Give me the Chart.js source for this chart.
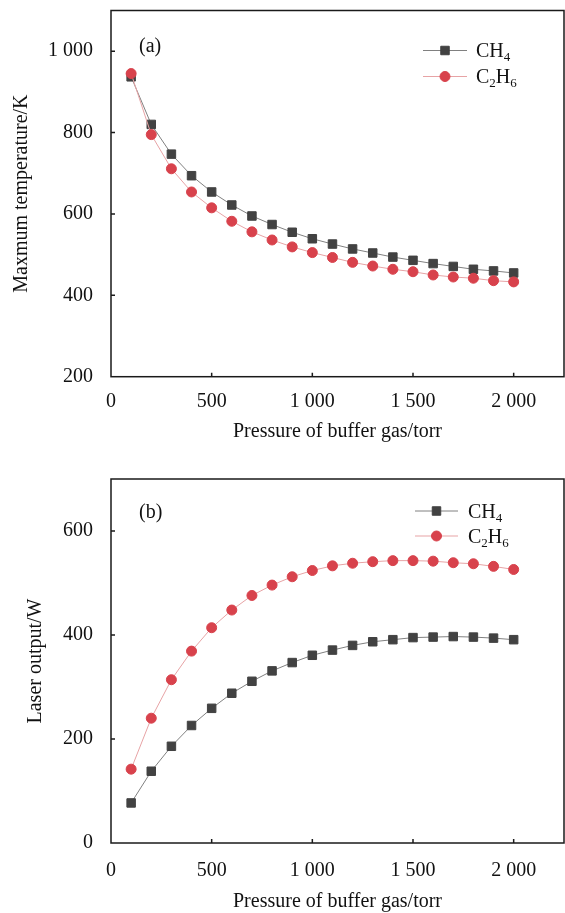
<!DOCTYPE html>
<html>
<head>
<meta charset="utf-8">
<script src="https://cdn.jsdelivr.net/npm/chart.js@4.4.1/dist/chart.umd.min.js"></script>
<style>
  body { margin: 0; background: #fff; overflow: hidden; }
  .panel { position: absolute; left: 0; width: 565px; }
  #boxA { top: 0; height: 460px; }
  #boxB { top: 460px; height: 453px; }
</style>
</head>
<body>
<div class="panel" id="boxA"><canvas id="chartA"></canvas></div>
<div class="panel" id="boxB"><canvas id="chartB"></canvas></div>
<script>
//data
var pressure = [100, 200, 300, 400, 500, 600, 700, 800, 900, 1000, 1100, 1200, 1300, 1400, 1500, 1600, 1700, 1800, 1900, 2000];
var seriesNames = ["CH4", "C2H6"];
//(a) maximum temperature, K
var tempCH4 = [937, 820, 747, 694, 654, 622, 595, 574, 555, 539, 526, 514, 504, 494, 486, 478, 471, 464, 460, 455];
var tempC2H6 = [945, 795, 711, 654, 615, 582, 556, 536, 519, 505, 493, 481, 472, 464, 458, 450, 445, 442, 436, 433];
//(b) laser output, W
var powerCH4 = [77, 138, 186, 226, 259, 288, 311, 331, 347, 361, 371, 380, 387, 391, 395, 396, 397, 396, 394, 391];
var powerC2H6 = [142, 240, 314, 369, 414, 448, 476, 496, 512, 524, 533, 538, 541, 543, 543, 542, 539, 537, 532, 526];
//axis ticks
var xTicks = [0, 500, 1000, 1500, 2000];
var yTicksA = [200, 400, 600, 800, 1000];
var yTicksB = [0, 200, 400, 600];

var FONT = "'Liberation Serif', 'Times New Roman', serif";

function toPoints(xs, ys) {
  var out = [];
  for (var i = 0; i < xs.length; i++) {
    out.push({x: xs[i], y: ys[i]});
  }
  return out;
}

function spaced(v) {
  return String(v).replace(/\B(?=(\d{3})+(?!\d))/g, " ");
}

// draw "C2H6" with subscript digits
function drawFormula(ctx, text, x, y) {
  var cx = x;
  for (var i = 0; i < text.length; i++) {
    var ch = text[i];
    if (/[0-9]/.test(ch)) {
      ctx.font = "13px " + FONT;
      ctx.fillText(ch, cx, y + 4);
    } else {
      ctx.font = "20px " + FONT;
      ctx.fillText(ch, cx, y);
    }
    cx += ctx.measureText(ch).width;
  }
}

//no automatic label padding, the layout padding places the plot box
function noPad(scale) {
  scale.paddingTop = 0;
  scale.paddingBottom = 0;
  scale.paddingLeft = 0;
  scale.paddingRight = 0;
}

//frame, inward ticks, panel label and legend
var decorPlugin = {
  id: 'decor',
  afterDraw: function(chart, args, opts) {
    var ctx = chart.ctx;
    var a = chart.chartArea;
    var xs = chart.scales.x;
    var ys = chart.scales.y;
    ctx.save();
    ctx.strokeStyle = '#1a1a1a';
    ctx.lineWidth = 1.5;
    ctx.strokeRect(a.left, a.top, a.right - a.left, a.bottom - a.top);
    ctx.beginPath();
    xs.ticks.forEach(function(t) {
      var px = xs.getPixelForValue(t.value);
      if (px <= a.left + 1) return;
      ctx.moveTo(px, a.bottom);
      ctx.lineTo(px, a.bottom - 4);
    });
    ys.ticks.forEach(function(t) {
      var py = ys.getPixelForValue(t.value);
      if (py >= a.bottom - 1) return;
      ctx.moveTo(a.left, py);
      ctx.lineTo(a.left + 4, py);
    });
    ctx.stroke();

    //panel label
    ctx.fillStyle = '#111';
    ctx.font = "20px " + FONT;
    ctx.textBaseline = 'middle';
    ctx.textAlign = 'left';
    ctx.fillText(opts.label, a.left + opts.labelX, a.top + opts.labelY);

    //legend
    ctx.textBaseline = 'alphabetic';
    var lg = opts.legend;
    chart.data.datasets.forEach(function(ds, i) {
      var y = a.top + lg.rows[i];
      ctx.strokeStyle = ds.borderColor;
      ctx.lineWidth = 1;
      ctx.beginPath();
      ctx.moveTo(a.left + lg.x0, y);
      ctx.lineTo(a.left + lg.x1, y);
      ctx.stroke();
      ctx.fillStyle = ds.pointBackgroundColor;
      ctx.strokeStyle = ds.pointBorderColor;
      Chart.helpers.drawPoint(ctx, {pointStyle: ds.pointStyle, radius: ds.pointRadius, borderWidth: 1, rotation: 0}, a.left + (lg.x0 + lg.x1) / 2, y);
      ctx.fillStyle = '#111';
      drawFormula(ctx, ds.label, a.left + lg.tx, y + 6.6);
    });
    ctx.restore();
  }
};

function makeDatasets(ch4, c2h6) {
  return [{
    label: seriesNames[0],
    data: toPoints(pressure, ch4),
    borderColor: '#808080',
    borderWidth: 1,
    pointStyle: 'rect',
    pointRadius: 6,
    pointBackgroundColor: '#424242',
    pointBorderColor: '#424242',
    pointBorderWidth: 1,
    order: 1
  }, {
    label: seriesNames[1],
    data: toPoints(pressure, c2h6),
    borderColor: '#e7a3a5',
    borderWidth: 1,
    pointStyle: 'circle',
    pointRadius: 5,
    pointBackgroundColor: '#d8424c',
    pointBorderColor: '#d8424c',
    pointBorderWidth: 1,
    order: 0
  }];
}

function makeOptions(cfg) {
  return {
    responsive: true,
    maintainAspectRatio: false,
    animation: false,
    devicePixelRatio: 1,
    layout: { autoPadding: false, padding: { top: cfg.padTop, right: 1, left: 0, bottom: 0 } },
    plugins: {
      legend: { display: false },
      tooltip: { enabled: false },
      decor: cfg.decor
    },
    scales: {
      x: {
        type: 'linear',
        min: 0,
        max: 2250,
        afterBuildTicks: function(scale) {
          scale.ticks = xTicks.map(function(v) { return {value: v}; });
        },
        afterFit: function(scale) { scale.height = cfg.xHeight; noPad(scale); },
        grid: { display: false, drawTicks: false },
        border: { display: false },
        ticks: {
          color: '#111',
          padding: cfg.xTickPad,
          maxRotation: 0,
          font: { family: FONT, size: 20 },
          callback: function(v) { return spaced(v); }
        },
        title: {
          display: true,
          text: 'Pressure of buffer gas/torr',
          color: '#111',
          font: { family: FONT, size: 20, lineHeight: 1 },
          padding: { top: 0, bottom: cfg.xTitlePad }
        }
      },
      y: {
        min: cfg.yMin,
        max: cfg.yMax,
        afterBuildTicks: function(scale) {
          scale.ticks = cfg.yTicks.map(function(v) { return {value: v}; });
        },
        afterFit: function(scale) { scale.width = 111; noPad(scale); },
        grid: { display: false, drawTicks: false },
        border: { display: false },
        ticks: {
          color: '#111',
          padding: 18,
          font: { family: FONT, size: 20 },
          callback: function(v) { return spaced(v); }
        },
        title: {
          display: true,
          text: cfg.yTitle,
          color: '#111',
          font: { family: FONT, size: 20, lineHeight: 1 },
          padding: { top: cfg.yTitlePad, bottom: 0 }
        }
      }
    }
  };
}

//chart (a)
var ctxA = document.getElementById('chartA').getContext('2d');
var chartA = new Chart(ctxA, {
  type: 'line',
  data: { datasets: makeDatasets(tempCH4, tempC2H6) },
  options: makeOptions({
    padTop: 10.5, xHeight: 83.3, xTickPad: 13, xTitlePad: 18,
    yMin: 200, yMax: 1100, yTicks: yTicksA,
    yTitle: 'Maxmum temperature/K', yTitlePad: 12,
    decor: { label: '(a)', labelX: 28, labelY: 36,
      legend: { x0: 312, x1: 356, tx: 365, rows: [40, 66] } }
  }),
  plugins: [decorPlugin]
});

//chart (b)
var ctxB = document.getElementById('chartB').getContext('2d');
var chartB = new Chart(ctxB, {
  type: 'line',
  data: { datasets: makeDatasets(powerCH4, powerC2H6) },
  options: makeOptions({
    padTop: 19, xHeight: 70, xTickPad: 16, xTitlePad: 1,
    yMin: 0, yMax: 700, yTicks: yTicksB,
    yTitle: 'Laser output/W', yTitlePad: 26,
    decor: { label: '(b)', labelX: 28, labelY: 34,
      legend: { x0: 304, x1: 347, tx: 357, rows: [32, 57] } }
  }),
  plugins: [decorPlugin]
});
</script>
</body>
</html>
